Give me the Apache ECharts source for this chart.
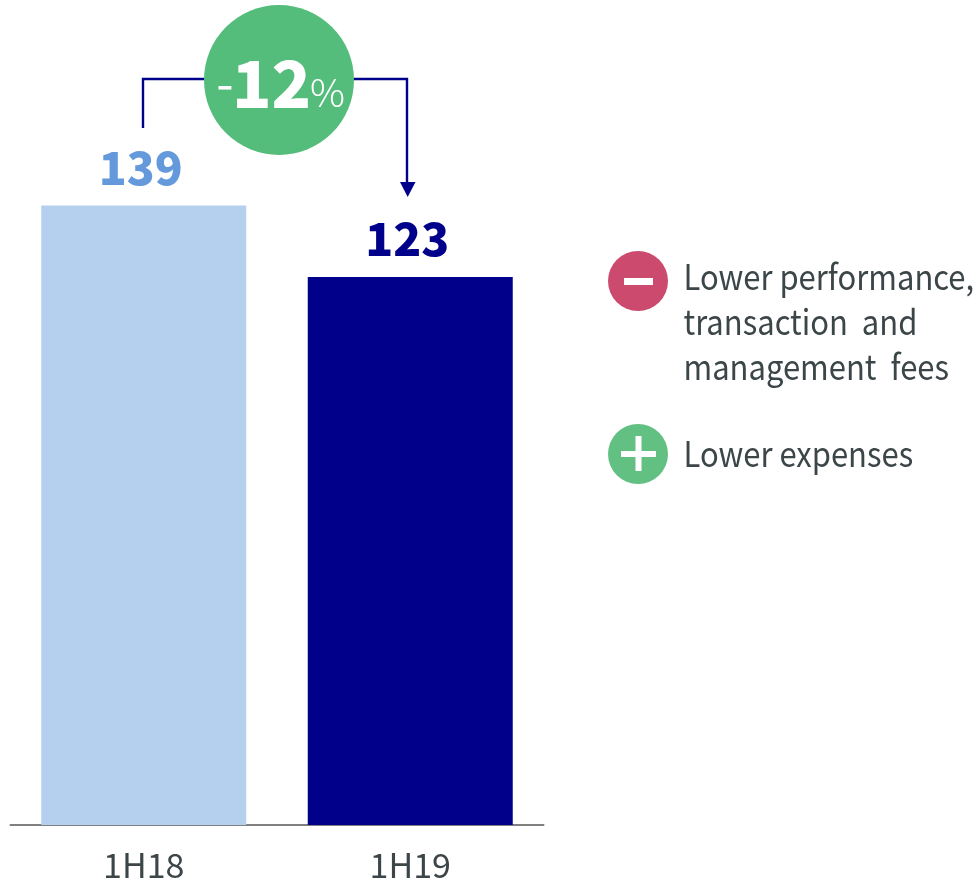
<!DOCTYPE html>
<html><head><meta charset="utf-8">
<style>html,body{margin:0;padding:0;background:#fff}#c{width:977px;height:882px}</style>
<script src="https://cdn.jsdelivr.net/npm/echarts@6/dist/echarts.min.js"></script>
</head><body><div id="c"></div>
<script>
const categories = ['1H18', '1H19'];
const values = [139, 123];
const barColors = ['#b5d0ee', '#00008b'];
const labelColors = ['#6499dc', '#00008b'];
const changeParts = ['-', '12', '%'];
const minusNote = ['Lower performance,', 'transaction  and', 'management  fees'];
const plusNote = ['Lower expenses'];

const FONT = '"Noto Sans CJK KR","Noto Sans",sans-serif';
const TEXT = '#3c4649', NAVY = '#00008b';
const noteText = (s, y) => ({
  type: 'text', x: 683.5, y: y - 1, scaleX: 0.885, originX: 0,
  style: { text: s, font: '400 35px ' + FONT, fill: TEXT, verticalAlign: 'middle' }
});
const chart = echarts.init(document.getElementById('c'), null, { renderer: 'canvas' });
chart.setOption({
  animation: false,
  backgroundColor: '#fff',
  grid: { left: 10.5, right: 433.5, top: 112, bottom: 55, containLabel: false },
  xAxis: {
    type: 'category', data: categories,
    axisLine: { lineStyle: { color: '#808080', width: 2 } },
    axisTick: { show: false },
    axisLabel: { color: TEXT, fontFamily: FONT, fontWeight: 400, fontSize: 34, margin: 23 }
  },
  yAxis: { type: 'value', min: 0, max: 160, show: false, splitLine: { show: false } },
  series: [{
    type: 'bar', barWidth: 205,
    data: values.map((v, i) => ({
      value: v, itemStyle: { color: barColors[i] },
      label: { color: labelColors[i] }
    })),
    label: { show: true, position: 'top', distance: 15, offset: [-3, 0], fontFamily: FONT, fontWeight: 900, fontSize: 46 }
  }],
  graphic: [
    { type: 'polyline', shape: { points: [[143, 128], [143, 79], [407, 79], [407, 184]] },
      style: { stroke: NAVY, lineWidth: 2.4, fill: null } },
    { type: 'polygon', shape: { points: [[400, 182], [415.5, 182], [407.7, 197]] }, style: { fill: NAVY } },
    { type: 'circle', shape: { cx: 279, cy: 80, r: 75 }, style: { fill: '#55bd7c' } },
    { type: 'text', x: 225, y: 83, style: { text: changeParts[0], font: '400 50px ' + FONT, fill: '#fff', align: 'center', verticalAlign: 'middle' } },
    { type: 'text', x: 271.5, y: 83, style: { text: changeParts[1], font: '900 65px ' + FONT, fill: '#fff', align: 'center', verticalAlign: 'middle' } },
    { type: 'text', x: 310, y: 92, style: { text: changeParts[2], font: '300 39px ' + FONT, fill: '#fff', verticalAlign: 'middle' } },
    { type: 'circle', shape: { cx: 638, cy: 281, r: 30 }, style: { fill: '#cc4a6e' } },
    { type: 'rect', shape: { x: 624, y: 278, width: 29, height: 7 }, style: { fill: '#fff' } },
    { type: 'circle', shape: { cx: 638, cy: 454, r: 30 }, style: { fill: '#62c083' } },
    { type: 'rect', shape: { x: 621, y: 451, width: 35, height: 6 }, style: { fill: '#fff' } },
    { type: 'rect', shape: { x: 635.5, y: 436, width: 6, height: 35 }, style: { fill: '#fff' } },
    ...minusNote.map((s, i) => noteText(s, 278 + i * 45)),
    ...plusNote.map(s => noteText(s, 455))
  ]
});
</script></body></html>
